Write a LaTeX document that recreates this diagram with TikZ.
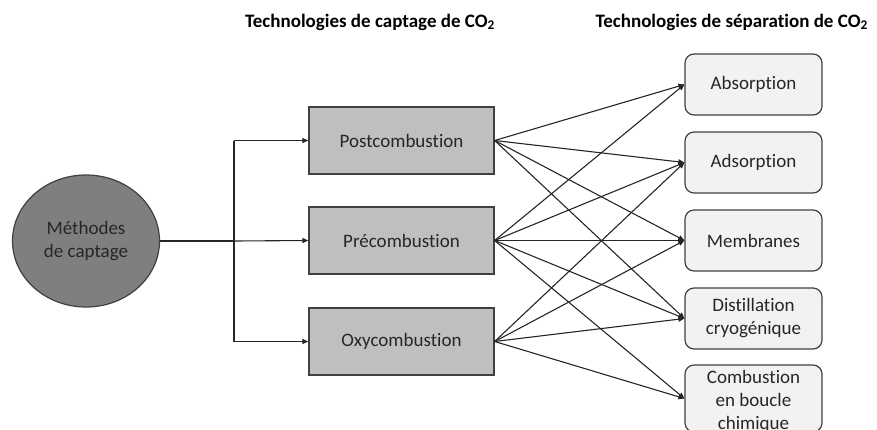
\documentclass[tikz,border=0pt]{standalone}
\usepackage{fontspec}
\setmainfont{Carlito}[Ligatures={NoCommon,NoContextual},RawFeature={-liga;-clig}]
\usetikzlibrary{arrows.meta,shapes.geometric}
\definecolor{edgegray}{HTML}{404040}
\definecolor{leftfill}{HTML}{BFBFBF}
\definecolor{rightfill}{HTML}{F2F2F2}
\definecolor{ellfill}{HTML}{7F7F7F}
\definecolor{txt}{HTML}{262626}
\tikzset{
  lbox/.style={draw=edgegray, line width=1.3pt, fill=leftfill, minimum width=185pt, minimum height=67pt, inner sep=0pt, font=\fontsize{19}{23}\selectfont, text=txt},
  rbox/.style={draw=edgegray, line width=1.2pt, fill=rightfill, rounded corners=9pt, minimum width=137pt, minimum height=61pt, inner sep=0pt, align=center, font=\fontsize{19}{23}\selectfont, text=txt},
  conn/.style={draw=black!85, line width=1.1pt, -{Triangle[length=6pt,width=5pt]}},
  plain/.style={draw=black!85, line width=1.1pt},
  ttl/.style={font=\fontsize{19}{22}\selectfont\bfseries, text=black, inner sep=0pt}
}
\begin{document}
\begin{tikzpicture}[x=1pt,y=-1pt]
\useasboundingbox (0,0) rectangle (877,429);
\clip (0,0) rectangle (877,429);
% titles
\node[ttl] (t1) at (370,22) {Technologies de captage de CO\textsubscript{2}};
\node[ttl, anchor=east] (t2) at (868,22) {Technologies de séparation de CO\textsubscript{2}};
% ellipse
\node[ellipse, draw=edgegray, line width=1.2pt, fill=ellfill, minimum width=147pt, minimum height=132pt, inner sep=0pt, align=center, font=\fontsize{19}{23}\selectfont, text=txt] (m) at (86,241) {Méthodes\\de captage};
% left boxes
\node[lbox] (post) at (401.5,140.5) {Postcombustion};
\node[lbox] (pre) at (401.5,240.5) {Précombustion};
\node[lbox] (oxy) at (401.5,341.5) {Oxycombustion};
% right boxes
\node[rbox] (abs) at (753.5,84.5) {Absorption};
\node[rbox] (ads) at (753.5,162.5) {Adsorption};
\node[rbox] (mem) at (753.5,240.5) {Membranes};
\node[rbox] (dis) at (753.5,318.5) {Distillation\\cryogénique};
\node[rbox, minimum height=67pt] (com) at (753.5,398.5) {};
\node[align=center, font=\fontsize{19}{23}\selectfont, text=txt, inner sep=0pt] (comt) at (753.5,401) {Combustion\\en boucle\\chimique};
% branch connectors
\coordinate (bx) at (234,241);
\draw[plain] (m.east) -- (bx);
\draw[plain] (bx |- post.west) -- (bx |- oxy.west);
\draw[conn] (bx |- post.west) -- (post.west);
\draw[conn] (bx) -- (pre.west);
\draw[conn] (bx |- oxy.west) -- (oxy.west);
% fan connectors
\foreach \t in {abs,ads,mem,dis} \draw[conn] (post.east) -- (\t.west);
\foreach \t in {abs,ads,mem,dis,com} \draw[conn] (pre.east) -- (\t.west);
\foreach \t in {ads,mem,dis,com} \draw[conn] (oxy.east) -- (\t.west);
\end{tikzpicture}
\end{document}
